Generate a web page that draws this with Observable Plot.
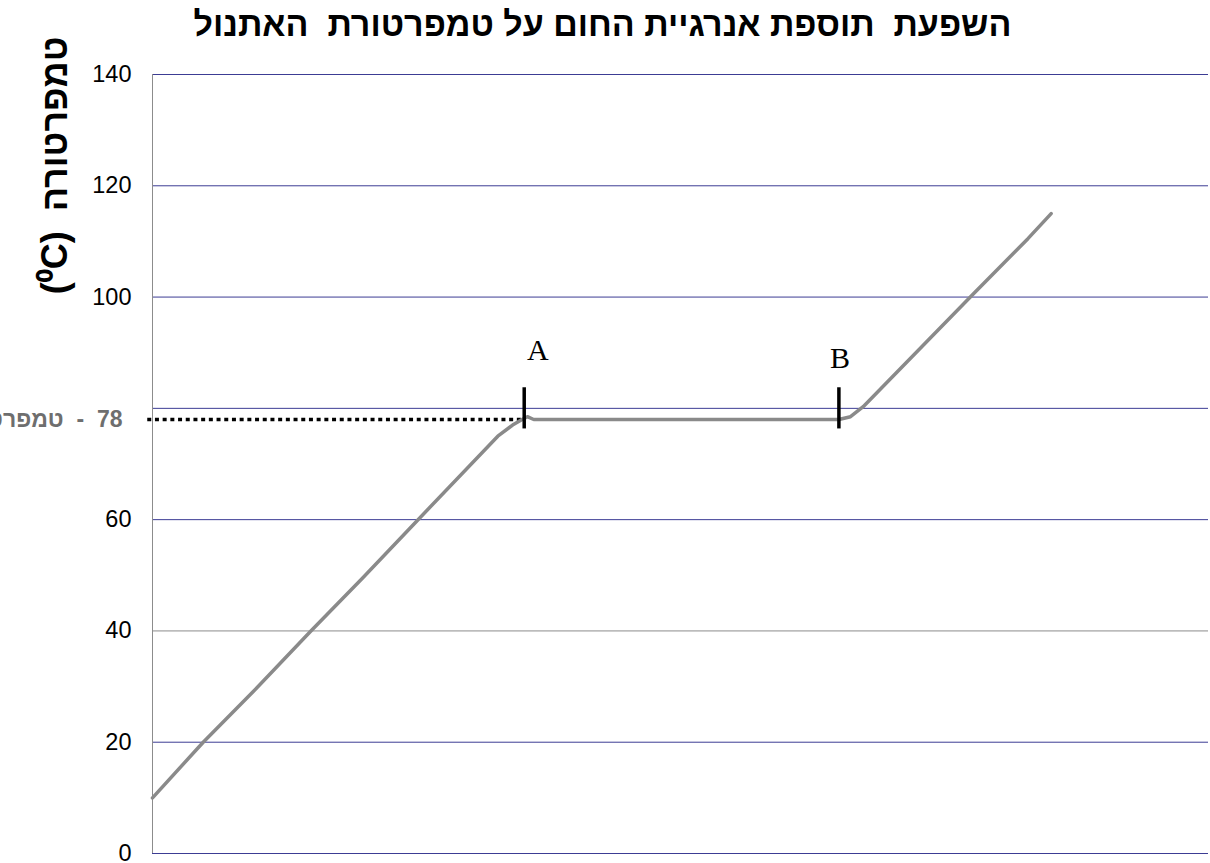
<!DOCTYPE html>
<html>
<head>
<meta charset="utf-8">
<script src="https://cdn.jsdelivr.net/npm/d3@7"></script>
<script src="https://cdn.jsdelivr.net/npm/@observablehq/plot@0.6"></script>
<style>
  html, body { margin: 0; padding: 0; background: #fff; }
  #wrap { position: relative; width: 1210px; height: 863px; overflow: hidden; }
  #title { position: absolute; left: 0; top: 4px; width: 1205px; text-align: center; direction: rtl; white-space: pre;
           font: bold 34px "Liberation Sans", Arial, sans-serif; line-height: 40px; color: #000; z-index: 2; }
</style>
</head>
<body>
<div id="wrap">
  <div id="title">השפעת  תוספת אנרגיית החום על טמפרטורת  האתנול</div>
  <div id="chart"></div>
</div>
<script>
// Heat energy added (arbitrary units, no axis shown) and ethanol temperature (°C)
const energy      = [0, 4.8, 10, 15, 19.9, 24.9, 32.7, 34.1, 35, 35.5, 36.1, 65, 66.1, 67.3, 77.7, 82.9, 85.1];
const temperature = [10, 20, 30, 40, 49.5, 59.5, 75, 77, 78, 78.5, 78, 78, 78.5, 80.3, 100.5, 110.5, 115];

const gridTicks  = [0, 20, 40, 60, 80, 100, 120, 140];
const labelTicks = [0, 20, 40, 60, 100, 120, 140];

// Phase-change markers
const markerNames  = ["A", "B"];
const markerEnergy = [35.2, 65.0];
const labelEnergy  = [36.5, 65.1];
const labelTemp    = [90.4, 88.9];

const boilingPoint = 78;
const boilingLabel = "\u202B78  -  טמפרטורת רתיחה\u202C";
const yTitle = "(⁰C)  טמפרטורה";

const data = energy.map((e, i) => ({energy: e, temp: temperature[i]}));
const markers = markerNames.map((n, i) => ({name: n, x: markerEnergy[i], lx: labelEnergy[i], ly: labelTemp[i]}));

const font = '"Liberation Sans", Arial, sans-serif';

const chart = Plot.plot({
  width: 1210,
  height: 863,
  marginLeft: 152,
  marginRight: 2,
  marginTop: 74,
  marginBottom: 10,
  style: {fontFamily: font, background: "transparent", overflow: "visible"},
  x: {domain: [0, 100], axis: null},
  y: {domain: [0, 140], axis: null},
  marks: [
    Plot.ruleY(gridTicks, {stroke: d => d === 40 ? "#8c8c8c" : "#3c3c94", strokeWidth: 1}),
    Plot.ruleX([0], {stroke: "#8c8c8c", strokeWidth: 1}),
    Plot.axisY(labelTicks, {tickSize: 0, tickPadding: 21, fontSize: 23.5, fill: "#000", label: null, fontFamily: font}),
    Plot.ruleY([boilingPoint], {x1: -0.45, x2: markerEnergy[0], stroke: "#000", strokeWidth: 3.5, strokeDasharray: "4,3.7"}),
    Plot.line(data, {x: "energy", y: "temp", stroke: "#8a8a8a", strokeWidth: 3.5, strokeLinejoin: "round", strokeLinecap: "round"}),
    Plot.ruleX(markers, {x: "x", y1: 76.3, y2: 83.7, stroke: "#000", strokeWidth: 3.5}),
    Plot.text(markers, {x: "lx", y: "ly", text: "name", fontFamily: '"Liberation Serif", "Times New Roman", serif', fontSize: 30, fill: "#000"}),
    Plot.text([boilingPoint], {frameAnchor: "left", y: d => d, text: () => boilingLabel, textAnchor: "end", dx: -30,
      fontSize: 23, fontWeight: "bold", fill: "#6e6e6e", fontFamily: font}),
    Plot.text([yTitle], {frameAnchor: "top-left", text: d => d, rotate: -90, textAnchor: "end", dx: -111, dy: -38,
      fontSize: 36, fontWeight: "bold", fill: "#000", fontFamily: font})
  ]
});
document.getElementById("chart").appendChild(chart);
</script>
</body>
</html>
